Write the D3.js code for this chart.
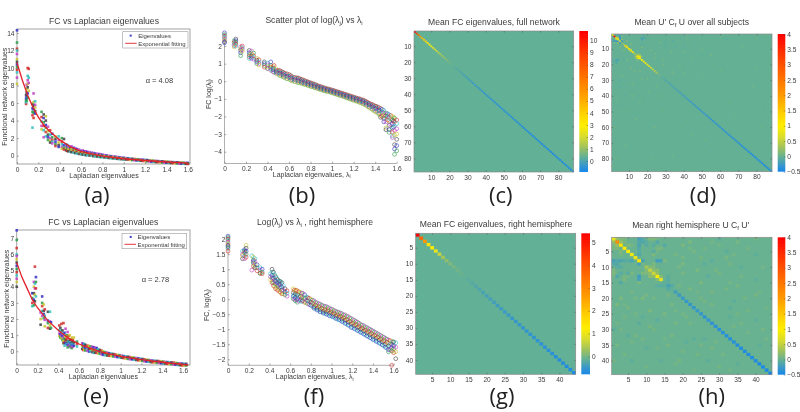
<!DOCTYPE html>
<html><head><meta charset="utf-8">
<style>html,body{margin:0;padding:0;background:#fff}svg{display:block}text{font-family:"Liberation Sans",Arial,sans-serif;fill:#3a3a3a}</style>
<script src="https://cdnjs.cloudflare.com/ajax/libs/d3/7.8.5/d3.min.js"></script>
</head><body><svg id="c" width="800" height="412"></svg>
<script>
const matlabColors=["#3030c8","#2a9c48","#d42c2c","#30c0c0","#c440c4","#c8c430","#404040"];
const mapStops=[[0,"#1887ea"],[.05,"#3a98c8"],[.105,"#62b096"],[.17,"#9cc060"],[.25,"#d8dc30"],[.33,"#ffee00"],[.42,"#ffd000"],[.55,"#ff9c00"],[.78,"#ff5000"],[1,"#ff0000"]];

const scatterA=[[0,[14.3,12.9,12.2,12,11.6,11,10.7,10.4,10.1,9.8,9.5,8.9,8.2]],[.085,[6.9,6.5,6.2,5.9,6.1]],[.09,[8.1,7.6,7.2,6.7,6.3]],[.1,[10,9.1,8.6,8.2,7.8,7.1,6.6]],[.11,[9.9,8.9,8.3,7.4]],[.145,[5.9,5.4,5,4.6,3.2]],[.155,[7.1,6.1,5.7,5.3,4.9,4.3]],[.17,[6.2,5.8,5.5,5.1,4.8]],[.23,[5,4.4,3.9,3.4,3]],[.25,[4.7,4.3,3.8,3.4,2.9,2.1]],[.27,[4.5,4,3.5,3.2,2.7,2.2]],[.29,[3.3,2.8,2.4,2.1,1.8]],[.31,[2.9,2.4,2,1.7,1.5]],[.33,[2.5,2.1,1.8,1.6,1.4]],[.36,[2.2,1.9,1.6,1.3,1.1]],[.39,[2.2,1.8,1.5,1.2,1]],[.42,[2,1.6,1.3,1,.8]],[.44,[1.9,1.2,.9,.7]],[.46,[1.3,1,.8,.6]],[.48,[1.1,.9,.7,.5]],[.5,[1,.8,.6,.45]],[.53,[.9,.7,.5,.35]],[.56,[.75,.6,.4,.25]],[.6,[.55,.4,.25,.15]],[.63,[.5,.35,.2,.1]],[.66,[.42,.28,.15,.05]],[.7,[.32,.2,.08,0]],[.73,[.25,.12,.02,-.08]],[.77,[.18,.05,-.05,-.14]],[.8,[.1,0,-.1,-.18]],[.84,[.02,-.08,-.16,-.24]],[.88,[-.06,-.14,-.22,-.3]],[.92,[-.12,-.2,-.28,-.34]],[.96,[-.2,-.27,-.34,-.4]],[1,[-.24,-.32,-.38,-.44]],[1.04,[-.3,-.38,-.44]],[1.08,[-.36,-.44,-.5]],[1.12,[-.4,-.48,-.54]],[1.16,[-.44,-.52,-.58]],[1.2,[-.48,-.56,-.62]],[1.24,[-.54,-.6,-.66]],[1.28,[-.58,-.64,-.7]],[1.32,[-.62,-.68,-.73]],[1.36,[-.66,-.71,-.77]],[1.4,[-.68,-.74,-.8]],[1.44,[-.72,-.77,-.83]],[1.48,[-.75,-.8,-.86]],[1.52,[-.78,-.84,-.89]],[1.56,[-.8,-.86,-.92]],[1.6,[-.82,-.88,-.95]]];
const extraA=[[.47,[1.2,.85,.55]],[.51,[1.05,.7,.4]],[.545,[.85,.55,.3]],[.58,[.7,.45,.2]],[.615,[.6,.35,.12]],[.645,[.5,.25,.06]],[.68,[.4,.18,.02]],[.715,[.3,.1,-.05]],[.75,[.22,.03,-.1]],[.785,[.15,-.02,-.15]],[.82,[.06,-.07,-.2]],[.86,[-.02,-.12,-.26]],[.9,[-.1,-.2,-.3]],[.94,[-.15,-.26,-.36]],[.98,[-.22,-.3,-.4]],[1.02,[-.28,-.36,-.44]],[1.06,[-.33,-.41,-.48]],[1.1,[-.38,-.45,-.52]],[1.14,[-.42,-.5,-.56]],[1.18,[-.46,-.54,-.6]],[1.22,[-.5,-.58,-.64]],[1.26,[-.56,-.62,-.68]],[1.3,[-.6,-.66,-.72]],[1.34,[-.64,-.7,-.75]],[1.38,[-.67,-.73,-.78]],[1.42,[-.7,-.76,-.82]],[1.46,[-.74,-.79,-.84]],[1.5,[-.76,-.82,-.87]],[1.54,[-.79,-.85,-.9]],[1.58,[-.82,-.87,-.93]]];
const fitA=[[0,10.6],[.05,8.6],[.1,6.9],[.15,5.5],[.2,4.4],[.25,3.5],[.3,2.85],[.4,1.8],[.5,1],[.6,.5],[.7,.2],[.8,-.05],[1,-.35],[1.2,-.55],[1.4,-.72],[1.6,-.85]];

const scatterB=[[0,[2.75,2.65,2.55,2.48,2.4,2.32,2.25,2.18]],[.09,[2.3,2.2,2.1,2.02,1.95]],[.105,[2.4,2.3,2.2,2.1,2]],[.15,[1.95,1.85,1.75,1.62,1.45]],[.165,[2,1.9,1.8,1.7]],[.23,[1.75,1.62,1.5,1.4,1.3]],[.25,[1.72,1.55,1.42,1.3]],[.27,[1.6,1.45,1.35,1.25]],[.3,[1.3,1.2,1.1,1]],[.32,[1.22,1.1,1,.92]],[.37,[1.1,1,.9,.8]],[.4,[1.02,.92,.82,.72]],[.43,[1.1,.9,.8,.7,.62]],[.45,[.85,.75,.65,.55]],[.48,[.7,.6,.52,.45]],[.5,[.62,.52,.45,.38]],[.53,[.55,.46,.38,.3]],[.56,[.45,.36,.28,.2]],[.6,[.38,.28,.2,.12]],[.63,[.25,.18,.1,.02]],[.67,[.2,.12,.05,-.05]],[.7,[.15,.06,0,-.08]],[.73,[.08,0,-.08,-.15]],[.76,[0,-.07,-.14,-.2]],[.79,[-.07,-.14,-.2,-.27]],[.82,[-.14,-.2,-.26,-.32]],[.85,[-.2,-.26,-.32,-.38]],[.88,[-.28,-.34,-.4,-.45]],[.91,[-.34,-.4,-.45,-.5]],[.94,[-.4,-.46,-.51,-.56]],[.97,[-.44,-.5,-.55,-.6]],[1,[-.5,-.56,-.6,-.66]],[1.03,[-.56,-.62,-.67,-.72]],[1.06,[-.62,-.68,-.73,-.78]],[1.09,[-.68,-.74,-.79,-.84]],[1.12,[-.74,-.8,-.85,-.9]],[1.15,[-.8,-.86,-.92,-.97]],[1.18,[-.86,-.92,-.98,-1.04]],[1.21,[-.92,-.98,-1.04,-1.1]],[1.24,[-.98,-1.04,-1.1,-1.16]],[1.27,[-1.04,-1.1,-1.17,-1.24]],[1.3,[-1.1,-1.18,-1.25,-1.33]],[1.33,[-1.2,-1.28,-1.36,-1.44]],[1.36,[-1.3,-1.38,-1.46,-1.56]],[1.39,[-1.38,-1.48,-1.58,-1.7]],[1.42,[-1.45,-1.56,-1.68,-1.8]],[1.45,[-1.55,-1.68,-1.8,-1.95,-2.05]],[1.48,[-1.65,-1.8,-1.95,-2.1,-2.3]],[1.5,[-1.8,-1.95,-2.1,-2.3,-2.65,-2.75]],[1.53,[-1.9,-2.05,-2.25,-2.5,-2.75,-2.9]],[1.56,[-2,-2.2,-2.4,-2.65,-2.9,-3.1,-3.2]],[1.58,[-2.1,-2.3,-2.55,-2.8,-3.05,-3.6,-3.85,-4.15]],[1.6,[-2.2,-2.4,-2.7,-3,-3.3,-3.65,-3.95]]];
const extraB=[[.46,[.9,.7,.5]],[.515,[.6,.46,.32]],[.545,[.5,.38,.24]],[.58,[.42,.28,.14]],[.615,[.32,.2,.06]],[.65,[.22,.1,-.02]],[.685,[.18,.04,-.08]],[.715,[.1,-.02,-.12]],[.745,[.03,-.08,-.18]],[.775,[-.04,-.14,-.24]],[.805,[-.1,-.2,-.3]],[.835,[-.17,-.27,-.36]],[.865,[-.25,-.33,-.42]],[.895,[-.31,-.39,-.48]],[.925,[-.37,-.45,-.54]],[.955,[-.43,-.5,-.58]],[.985,[-.48,-.55,-.63]],[1.015,[-.53,-.61,-.69]],[1.045,[-.59,-.67,-.75]],[1.075,[-.65,-.73,-.81]],[1.105,[-.71,-.79,-.87]],[1.135,[-.77,-.85,-.94]],[1.165,[-.83,-.91,-1]],[1.195,[-.89,-.97,-1.07]],[1.225,[-.95,-1.03,-1.13]],[1.255,[-1,-1.09,-1.2]],[1.285,[-1.07,-1.16,-1.27]],[1.315,[-1.15,-1.24,-1.36]],[1.345,[-1.25,-1.34,-1.48]],[1.375,[-1.33,-1.44,-1.6]],[1.405,[-1.42,-1.54,-1.72]],[1.435,[-1.5,-1.64,-1.85]],[1.465,[-1.6,-1.76,-2]],[1.515,[-1.85,-2,-2.2]],[1.545,[-1.95,-2.15,-2.45]],[1.57,[-2.05,-2.25,-2.6]]];

const scatterE=[[0,[7.5,6.9,6.4,6,5.9,5.7,5.5,5.3,5.1,4.9,4.7,4.5,4.3,4]],[.15,[3.6,3.3,3,2.8]],[.165,[4.3,4,3.6,3.2,2.85]],[.175,[5.25,4.2,3.9,3.5,3.1]],[.185,[4.6,4.3,3.9,3.4]],[.23,[2.4,2,1.65]],[.245,[3.4,3,2.8,2.5,2.2]],[.26,[2.9,2.5,2.3,2.05]],[.27,[2.6,2.2,1.95,1.55]],[.3,[2.45,1.9,1.75,1.45]],[.32,[2.45,1.85,1.6,1.4]],[.33,[1.8,1.45]],[.41,[1.6,1.3,1.1,.95]],[.43,[1.7,1.25,1,.8]],[.45,[1.75,1.1,.85,.65,.5]],[.47,[1.4,.9,.7,.5]],[.49,[1.2,.9,.6,.4,.25]],[.51,[1,.7,.5,.3]],[.53,[.85,.6,.4,.2]],[.55,[.85,.55,.35]],[.58,[.6,.45,.3]],[.63,[.5,.35,.15]],[.65,[.45,.3,.1]],[.68,[.35,.2,.05]],[.71,[.3,.15,0]],[.74,[.25,.12,-.02,-.1]],[.77,[.2,.05,-.1]],[.8,[.08,-.05,-.15]],[.83,[0,-.1,-.22]],[.87,[-.08,-.16,-.26]],[.91,[-.14,-.22,-.3]],[.95,[-.2,-.28,-.34]],[.99,[-.24,-.32,-.38]],[1.03,[-.3,-.36,-.42]],[1.07,[-.34,-.41,-.47]],[1.11,[-.38,-.45,-.5]],[1.15,[-.42,-.48,-.54]],[1.19,[-.46,-.52,-.58]],[1.23,[-.5,-.56,-.62]],[1.27,[-.54,-.6,-.65]],[1.31,[-.58,-.63,-.68]],[1.35,[-.6,-.66,-.71]],[1.39,[-.62,-.68,-.74]],[1.43,[-.66,-.71,-.76]],[1.47,[-.68,-.74,-.79]],[1.51,[-.7,-.76,-.82]],[1.55,[-.74,-.8,-.85]],[1.59,[-.76,-.82,-.88]],[1.63,[-.78,-.84,-.88]]];
const extraE=[[.42,[1.45,1.05,.85]],[.44,[1.3,.95,.7]],[.46,[1.15,.8,.55,.35]],[.48,[1,.75,.45]],[.5,[.95,.6,.35]],[.52,[.75,.5,.25]],[.54,[.7,.45,.28]],[.64,[.45,.25,.08]],[.66,[.4,.22,.05]],[.695,[.33,.15,-.02]],[.725,[.28,.1,-.05]],[.755,[.22,.06,-.08]],[.785,[.12,0,-.12]],[.815,[.04,-.06,-.18]],[.85,[-.05,-.13,-.24]],[.89,[-.12,-.2,-.28]],[.93,[-.17,-.25,-.32]],[.97,[-.22,-.3,-.36]],[1.01,[-.27,-.34,-.4]],[1.05,[-.32,-.38,-.45]],[1.09,[-.36,-.43,-.49]],[1.13,[-.4,-.46,-.52]],[1.17,[-.44,-.5,-.56]],[1.21,[-.48,-.54,-.6]],[1.25,[-.52,-.58,-.64]],[1.29,[-.56,-.62,-.67]],[1.33,[-.59,-.65,-.7]],[1.37,[-.61,-.67,-.72]],[1.41,[-.64,-.7,-.75]],[1.45,[-.67,-.72,-.78]],[1.49,[-.69,-.75,-.8]],[1.53,[-.72,-.78,-.83]],[1.57,[-.75,-.81,-.86]],[1.61,[-.77,-.83,-.88]]];
const fitE=[[0,5.5],[.05,4.6],[.1,3.9],[.15,3.2],[.2,2.7],[.3,1.9],[.4,1.3],[.5,.8],[.6,.45],[.7,.2],[.8,-.02],[1,-.32],[1.2,-.52],[1.4,-.68],[1.65,-.85]];

const scatterF=[[0,[2.1,2.05,2,1.95,1.9,1.85,1.8,1.75,1.7,1.6]],[.14,[1.6,1.5,1.45,1.35]],[.16,[1.65,1.6,1.55,1.45,1.35]],[.175,[1.8,1.7,1.6,1.5,1.4]],[.23,[1.45,.97]],[.245,[1.4,1.3,1.25,1.2,1.1]],[.26,[1.35,1.25,1.15,1.05]],[.28,[1.15,1.05,.95]],[.31,[1.05,.98,.88,.86]],[.33,[1,.9,.85]],[.41,[.85,.75,.65]],[.425,[1,.8,.7,.55]],[.44,[.9,.7,.55,.45]],[.46,[.75,.6,.5,.35]],[.48,[.65,.55,.45,.3]],[.5,[.6,.5,.4,.25]],[.52,[.55,.4,.3,.18]],[.55,[.35,.25,.15]],[.63,[.35,.22,.1,.02]],[.65,[.3,.18,.05,-.05]],[.67,[.28,.15,0,-.1]],[.7,[.22,.1,-.02]],[.72,[.2,.08,-.05]],[.74,[.15,.03,-.1]],[.77,[.05,-.05,-.15]],[.8,[0,-.1,-.2]],[.83,[-.05,-.15,-.25,-.3]],[.86,[-.12,-.22,-.3,-.36]],[.89,[-.16,-.26,-.34,-.42]],[.92,[-.22,-.32,-.4,-.46]],[.95,[-.24,-.34,-.42,-.5]],[.98,[-.3,-.38,-.46,-.55]],[1.01,[-.34,-.42,-.5,-.58]],[1.04,[-.4,-.48,-.56,-.64]],[1.07,[-.44,-.52,-.6,-.68]],[1.1,[-.48,-.58,-.66,-.74]],[1.13,[-.52,-.62,-.7,-.8]],[1.16,[-.58,-.68,-.76,-.86]],[1.19,[-.64,-.74,-.82,-.94]],[1.22,[-.7,-.8,-.88,-.98]],[1.25,[-.76,-.86,-.94,-1.04]],[1.28,[-.84,-.92,-1,-1.1]],[1.31,[-.88,-.98,-1.06,-1.16]],[1.34,[-.94,-1.04,-1.12,-1.22]],[1.37,[-1,-1.1,-1.18,-1.28]],[1.4,[-1.06,-1.16,-1.24,-1.34]],[1.43,[-1.12,-1.22,-1.3,-1.4]],[1.46,[-1.18,-1.28,-1.36,-1.46]],[1.49,[-1.24,-1.34,-1.42,-1.52]],[1.52,[-1.3,-1.4,-1.5,-1.6]],[1.55,[-1.36,-1.46,-1.56,-1.68,-1.75]],[1.58,[-1.4,-1.5,-1.62,-1.72,-2.2]],[1.6,[-1.42,-1.55,-1.65,-1.78]],[1.62,[-1.45,-1.6,-1.75,-1.98]]];
const extraF=[[.43,[.9,.72,.6]],[.45,[.82,.62,.42]],[.47,[.7,.55,.38]],[.49,[.6,.48,.32]],[.51,[.58,.42,.22]],[.535,[.45,.3,.18]],[.57,[.28,.2,.1]],[.64,[.3,.15,0]],[.66,[.3,.12,-.02]],[.685,[.25,.08,-.06]],[.71,[.2,.05,-.08]],[.755,[.08,-.04,-.12]],[.785,[.03,-.08,-.18]],[.815,[-.03,-.13,-.23]],[.845,[-.1,-.2,-.3]],[.875,[-.15,-.25,-.36]],[.905,[-.2,-.3,-.42]],[.935,[-.24,-.36,-.47]],[.965,[-.28,-.38,-.5]],[.995,[-.33,-.44,-.56]],[1.025,[-.38,-.48,-.6]],[1.055,[-.42,-.54,-.66]],[1.085,[-.46,-.58,-.7]],[1.115,[-.52,-.62,-.76]],[1.145,[-.56,-.68,-.82]],[1.175,[-.62,-.74,-.88]],[1.205,[-.68,-.8,-.94]],[1.235,[-.74,-.85,-1]],[1.265,[-.8,-.92,-1.06]],[1.295,[-.86,-.97,-1.12]],[1.325,[-.92,-1.03,-1.18]],[1.355,[-.97,-1.08,-1.24]],[1.385,[-1.03,-1.14,-1.3]],[1.415,[-1.09,-1.2,-1.36]],[1.445,[-1.15,-1.26,-1.42]],[1.475,[-1.21,-1.32,-1.48]],[1.505,[-1.27,-1.38,-1.55]],[1.535,[-1.33,-1.44,-1.62]],[1.565,[-1.38,-1.5,-1.68]],[1.59,[-1.42,-1.54,-1.72]]];

const diagC=[10.8,8.6,7.1,5.6,4.7,4.1,3.6,3.2,2.9,2.6,2.3,2.05,1.8,1.6,1.4,1.2,1.05,.9,.72,.58,.45,.35,.25,.15,.08,.02,-.04,-.08,-.13,-.17,-.2,-.24,-.27,-.3,-.33,-.36,-.38,-.41,-.43,-.45,-.47,-.49,-.5,-.52,-.53,-.55,-.56,-.57,-.58,-.59,-.6,-.61,-.62,-.63,-.64,-.65,-.66,-.67,-.68,-.69,-.7,-.7,-.71,-.72,-.72,-.73,-.74,-.74,-.75,-.76,-.76,-.77,-.78,-.78,-.79,-.79,-.8,-.81,-.81,-.82,-.83,-.83,-.84,-.85,-.86,-.87,-.88,-.9];
const diagD=[1,3.7,1.2,.9,.5,.1,.3,1.2,1.1,1.05,1,1.05,.4,.35,1.15,1,1,.95,.85,.75,.65,.55,.5,.45,.4,.1,.02,-.08,-.1,-.12,-.12,-.14,-.15,-.15,-.17,-.18,-.18,-.2,-.2,-.22,-.22,-.23,-.24,-.25,-.25,-.26,-.27,-.27,-.28,-.28,-.29,-.3,-.3,-.3,-.31,-.32,-.32,-.33,-.33,-.34,-.34,-.35,-.35,-.36,-.36,-.37,-.37,-.38,-.38,-.39,-.39,-.4,-.4,-.41,-.41,-.42,-.42,-.43,-.43,-.44,-.44,-.45,-.45,-.46,-.46,-.47,-.48,-.49];
const diagG=[5.4,3.7,2.7,1.45,1.2,.95,.6,.35,.18,.08,.02,-.03,-.08,-.14,-.2,-.23,-.27,-.3,-.34,-.36,-.38,-.4,-.42,-.44,-.46,-.47,-.49,-.5,-.52,-.53,-.54,-.55,-.57,-.58,-.59,-.6,-.61,-.62,-.64,-.65,-.66,-.68,-.7,-.75];
const diagH=[.8,2.2,1.15,1.05,.95,.85,.8,1.15,.05,.3,.5,.55,.95,.7,-.05,-.18,-.05,-.22,-.26,-.28,-.3,-.3,-.3,-.28,-.3,-.35,-.33,-.36,-.36,-.38,-.38,-.4,-.4,-.4,-.42,-.42,-.43,-.44,-.44,-.45,-.46,-.46,-.47,-.5];

const offD=[[1,4,-.08],[1,5,-.12],[2,6,.12],[3,4,.4],[3,5,-.3],[4,6,.25],[4,5,-.25],[5,6,-.3],[2,5,-.25],[1,18,-.12],[3,18,-.18],[3,19,-.1],[4,17,-.2],[3,17,-.14],[15,16,.8],[14,15,.7],[14,16,.3],[15,17,.15],[13,15,.1],[8,9,.2],[10,11,.15],[5,9,.1],[7,11,.1],[7,17,-.08],[9,17,.08],[11,22,.08],[13,24,.07],[16,24,.08],[17,29,.07],[20,29,.06],[12,33,.06],[21,38,.06],[5,30,-.07],[5,34,-.07],[8,30,-.06],[8,40,-.07],[6,46,-.06],[26,40,.06],[28,50,.05],[35,44,-.05],[38,60,.05],[42,70,-.05],[45,65,.05],[52,68,.05],[55,75,-.05],[60,82,.05],[3,80,.06],[8,72,.06],[14,55,.06],[24,60,.06],[30,66,-.05],[2,60,.06],[1,85,.07],[4,64,-.06],[10,50,.05],[18,74,-.05],[22,80,.05],[34,78,.05],[48,84,-.05],[12,40,.07],[6,27,.07],[9,35,-.05],[3,42,.06],[25,34,.07],[16,44,.06]];
const offH=[[1,2,.25],[1,3,.12],[1,8,-.2],[2,3,.25],[2,4,.12],[1,4,.1],[2,8,-.12],[3,8,-.15],[4,8,-.1],[6,8,-.14],[5,8,-.08],[8,9,-.2],[3,5,.12],[3,6,.08],[1,9,-.12],[1,13,.06],[2,13,-.12],[8,13,-.22],[8,14,-.2],[3,12,-.08],[4,13,.08],[5,13,.06],[6,12,.1],[11,13,.18],[12,13,.2],[10,12,.12],[9,12,.1],[10,11,.15],[11,12,.2],[13,14,.15],[4,14,.1],[5,12,-.08],[3,10,-.08],[2,10,-.08],[2,9,-.12],[1,11,.1],[1,12,.12],[3,15,-.1],[8,15,.1],[13,16,-.06],[14,16,-.08],[15,16,-.06],[16,17,-.1],[16,19,.07],[17,22,.08],[18,28,.08],[20,25,.07],[21,34,-.05],[7,20,.08],[9,20,.1],[11,24,.1],[5,23,.08],[3,20,.1],[2,22,.1],[4,26,.07],[13,27,-.07],[15,25,.09],[8,28,-.07],[7,32,.08],[12,30,.07],[22,28,.07],[23,33,-.06],[10,36,-.05],[16,35,.08],[24,38,.07],[27,40,-.05],[30,42,.07],[4,38,.07],[6,40,-.06],[9,33,.07],[19,40,.08],[25,35,.07],[28,36,.07],[31,38,.06],[35,41,-.05],[2,35,.08],[1,40,.07],[1,30,-.06],[14,40,-.05],[17,32,.08],[5,32,-.06],[21,26,.07],[29,34,.07],[33,43,.06],[12,20,.08],[18,24,.06],[6,18,.07],[10,19,.08],[4,22,.06],[7,25,.07],[11,29,.08],[3,30,.06],[9,26,-.05],[15,33,.06],[20,37,.07],[26,33,-.05],[13,36,.06],[18,41,.06],[23,43,.05],[2,28,.06],[6,34,.06],[10,42,.06]];

const ticksScatterX=[0,.2,.4,.6,.8,1,1.2,1.4,1.6];
const ticksA=[0,2,4,6,8,10,12,14];
const ticksB=[-4,-3,-2,-1,0,1,2];
const ticksE=[0,1,2,3,4,5,6,7];
const ticksF=[-2,-1.5,-1,-.5,0,.5,1,1.5,2];
const ticksHeat88=[10,20,30,40,50,60,70,80];
const ticksHeat44=[5,10,15,20,25,30,35,40];
const ticksBarC=[0,1,2,3,4,5,6,7,8,9,10];
const ticksBarD=[-.5,0,.5,1,1.5,2,2.5,3,3.5,4];
const ticksBarG=[0,1,2,3,4,5];

const svg=d3.select("#c");
const defs=svg.append("defs");
defs.append("filter").attr("id","soft").attr("x",0).attr("y",0).attr("width",1).attr("height",1).attr("filterUnits","objectBoundingBox")
  .append("feGaussianBlur").attr("stdDeviation",.48);
const grad=defs.append("linearGradient").attr("id","cmap").attr("x1",0).attr("x2",0).attr("y1",1).attr("y2",0);
mapStops.forEach(s=>grad.append("stop").attr("offset",s[0]).attr("stop-color",s[1]));
const root=svg.append("g").attr("filter","url(#soft)");
root.append("rect").attr("width",800).attr("height",412).attr("fill","#fff");

const fmt=d3.format("~g");
function styleAxis(g){g.select(".domain").remove();g.selectAll("line").attr("stroke","#555").attr("stroke-width",.5);g.selectAll("text").attr("font-size",6.6).attr("font-family",null).style("fill","#3a3a3a");return g;}
function rich(x,y,segs,size,rot){
  const t=root.append("text").attr("text-anchor","middle").attr("font-size",size)
    .attr("transform",rot?`translate(${x},${y}) rotate(-90)`:`translate(${x},${y})`);
  segs.forEach((s,i)=>{
    if(i%2===0)t.append("tspan").text(s).attr("dy",i?-1.8:0);
    else t.append("tspan").text(s).attr("font-size",size*.7).attr("dy",1.8);
  });
}
function flat(groups){return groups.flatMap(g=>g[1].map(v=>[g[0],v])).sort((a,b)=>a[0]-b[0]);}

function scatter(o){
  const x=d3.scaleLinear().domain(o.xd).range(o.xr),y=d3.scaleLinear().domain(o.yd).range(o.yr);
  const g=root.append("g");
  const pts=flat(o.data);
  if(o.filled){
    g.append("rect").attr("x",o.xr[0]).attr("y",o.yr[1]).attr("width",o.xr[1]-o.xr[0]).attr("height",o.yr[0]-o.yr[1]).attr("fill","#fff").attr("stroke","#999").attr("stroke-width",.9);
    g.selectAll("rect.p").data(pts).join("rect").attr("x",d=>x(d[0])-1.3).attr("y",d=>y(d[1])-1.3).attr("width",2.6).attr("height",2.6)
      .attr("fill",(d,i)=>matlabColors[i%7]).attr("opacity",.85);
    g.append("path").datum(o.fit).attr("fill","none").attr("stroke","#e1202a").attr("stroke-width",1.3)
      .attr("d",d3.line().x(d=>x(d[0])).y(d=>y(d[1])));
  }else{
    g.append("path").attr("d",`M${o.xr[0]},${o.yr[1]}V${o.yr[0]}H${o.xr[1]}`).attr("fill","none").attr("stroke","#b0b0b0").attr("stroke-width",1);
    g.selectAll("circle").data(pts).join("circle").attr("cx",d=>x(d[0])).attr("cy",d=>y(d[1])).attr("r",1.9)
      .attr("fill","none").attr("stroke",(d,i)=>matlabColors[i%7]).attr("stroke-width",.7).attr("opacity",.85);
  }
  g.append("g").attr("transform",`translate(0,${o.yr[0]})`).call(d3.axisBottom(x).tickValues(o.xt).tickFormat(fmt).tickSize(-1.8).tickPadding(3)).call(styleAxis);
  g.append("g").attr("transform",`translate(${o.xr[0]},0)`).call(d3.axisLeft(y).tickValues(o.yt).tickFormat(fmt).tickSize(-1.8).tickPadding(2.5)).call(styleAxis);
}

function heat(o){
  const n=o.diag.length;
  const x=d3.scaleLinear().domain([.5,n+.5]).range(o.xr),y=d3.scaleLinear().domain([.5,n+.5]).range(o.yr);
  const t=d3.scaleLinear().domain(o.vd).range([0,1]);
  const c=d3.scaleLinear().domain(mapStops.map(s=>s[0])).range(mapStops.map(s=>s[1]));
  const col=v=>c(t(v));
  const g=root.append("g");
  g.append("rect").attr("x",o.xr[0]).attr("y",o.yr[0]).attr("width",o.xr[1]-o.xr[0]).attr("height",o.yr[1]-o.yr[0]).attr("fill",col(o.base));
  const cells=[];
  (o.off||[]).forEach(d=>{cells.push([d[0],d[1],d[2]]);cells.push([d[1],d[0],d[2]]);});
  o.diag.forEach((v,i)=>cells.push([i+1,i+1,v]));
  g.selectAll("rect.cell").data(cells).join("rect").attr("class","cell")
    .attr("x",d=>x(d[1]-.5)).attr("y",d=>y(d[0]-.5)).attr("width",x(1.5)-x(.5)+.15).attr("height",y(1.5)-y(.5)+.15).attr("fill",d=>col(d[2]));
  g.append("rect").attr("x",o.xr[0]).attr("y",o.yr[0]).attr("width",o.xr[1]-o.xr[0]).attr("height",o.yr[1]-o.yr[0]).attr("fill","none").attr("stroke","#8a8a8a").attr("stroke-width",.7);
  g.append("g").attr("transform",`translate(0,${o.yr[1]})`).call(d3.axisBottom(x).tickValues(o.ticks).tickSize(-1.5).tickPadding(3)).call(styleAxis);
  g.append("g").attr("transform",`translate(${o.xr[0]},0)`).call(d3.axisLeft(y).tickValues(o.ticks).tickSize(-1.5).tickPadding(2.5)).call(styleAxis);
  g.append("g").attr("transform",`translate(0,${o.yr[0]})`).call(d3.axisTop(x).tickValues(o.ticks).tickSize(-1.5).tickFormat("")).call(styleAxis);
  g.append("g").attr("transform",`translate(${o.xr[1]},0)`).call(d3.axisRight(y).tickValues(o.ticks).tickSize(-1.5).tickFormat("")).call(styleAxis);
  const b=d3.scaleLinear().domain(o.vd).range([o.yr[1],o.yr[0]]);
  g.append("rect").attr("x",o.bar[0]).attr("y",o.yr[0]).attr("width",o.bar[1]-o.bar[0]).attr("height",o.yr[1]-o.yr[0]).attr("fill","url(#cmap)");
  g.append("g").attr("transform",`translate(${o.bar[1]},0)`).call(d3.axisRight(b).tickValues(o.barTicks).tickFormat(fmt).tickSize(-1.5).tickPadding(2)).call(styleAxis);
}

function legend(x,y,w,h,mx,my,ly){
  root.append("rect").attr("x",x).attr("y",y).attr("width",w).attr("height",h).attr("fill","#fff").attr("stroke","#999").attr("stroke-width",.6);
  root.append("rect").attr("x",mx-1).attr("y",my-1).attr("width",2).attr("height",2).attr("fill","#3b3bd0");
  root.append("line").attr("x1",x+2.5).attr("x2",x+14).attr("y1",ly).attr("y2",ly).attr("stroke","#e1202a").attr("stroke-width",.9);
  root.append("text").attr("x",x+15.5).attr("y",my+2.3).attr("font-size",6).text("Eigenvalues");
  root.append("text").attr("x",x+15.5).attr("y",ly+2.3).attr("font-size",6).text("Exponential fitting");
}

scatter({data:scatterA.concat(extraA),fit:fitA,filled:true,xd:[0,1.62],xr:[17,190],yd:[-.95,14.45],yr:[164,29],xt:ticksScatterX,yt:ticksA});
scatter({data:scatterB.concat(extraB),xd:[0,1.6],xr:[224.5,396.7],yd:[-4.67,2.74],yr:[163.5,33],xt:ticksScatterX,yt:ticksB});
scatter({data:scatterE.concat(extraE),fit:fitE,filled:true,xd:[0,1.667],xr:[16.7,190],yd:[-.85,7.52],yr:[365,230],xt:ticksScatterX,yt:ticksE});
scatter({data:scatterF.concat(extraF),xd:[0,1.6],xr:[228,393.7],yd:[-2.2,2.14],yr:[365.3,235],xt:ticksScatterX,yt:ticksF});

heat({diag:diagC,xr:[414,573.7],yr:[31,172],vd:[-.91,10.8],base:.32,ticks:ticksHeat88,bar:[579.3,588],barTicks:ticksBarC});
heat({diag:diagD,off:offD,xr:[611.7,772],yr:[34,171.7],vd:[-.5,4],base:-.02,ticks:ticksHeat88,bar:[777.7,785.3],barTicks:ticksBarD});
heat({diag:diagG,xr:[415.7,575.7],yr:[233.3,374.3],vd:[-.79,5.41],base:-.14,ticks:ticksHeat44,bar:[581.3,590],barTicks:ticksBarG});
heat({diag:diagH,off:offH,xr:[611.7,772],yr:[237.3,374.7],vd:[-.5,4],base:0,ticks:ticksHeat44,bar:[777.7,785.3],barTicks:ticksBarD});

legend(122.7,31.7,65.3,16.3,130.7,35.6,43.3);
legend(122,233.3,64.7,15.4,130.7,236.9,244.3);
root.append("text").attr("x",145.7).attr("y",82.7).attr("font-size",7.5).text("α = 4.08");
root.append("text").attr("x",141.7).attr("y",281.7).attr("font-size",7.5).text("α = 2.78");

const T=8.6,L=7;
rich(104,24,["FC vs Laplacian eigenvalues"],T);
rich(314,23,["Scatter plot of log(λ","j",") vs λ","i"],T);
rich(494,25.3,["Mean FC eigenvalues, full network"],T);
rich(691.7,24.7,["Mean U' C","f"," U over all subjects"],T);
rich(103.3,224.7,["FC vs Laplacian eigenvalues"],T);
rich(315,225.3,["Log(λ","j",") vs λ","i"," , right hemisphere"],T);
rich(496,227.3,["Mean FC eigenvalues, right hemisphere"],T);
rich(690.7,228,["Mean right hemisphere U C","f"," U'"],T);
rich(104,178,["Laplacian eigenvalues"],L);
rich(311.7,176.5,["Laplacian eigenvalues, λ","i"],L);
rich(103.3,379.3,["Laplacian eigenvalues"],L);
rich(314.7,378.7,["Laplacian eigenvalues, λ","i"],L);
rich(7,96.7,["Functional network eigenvalues"],L,true);
rich(210.5,94,["FC log(λ","j",")"],L,true);
rich(9,298.7,["Functional network eigenvalues"],L,true);
rich(209,305,["FC, log(λ","j",")"],L,true);

const panelLetters=["(a)","(b)","(c)","(d)","(e)","(f)","(g)","(h)"];
[[97,203],[302,203],[500.7,203],[703,203],[96,404],[314,404],[502,404],[711.7,404]].forEach((p,i)=>{
  root.append("text").attr("x",p[0]).attr("y",p[1]).attr("text-anchor","middle").attr("font-size",22).style("font-family","'Open Sans'").style("fill","#222").text(panelLetters[i]);
});
</script></body></html>
